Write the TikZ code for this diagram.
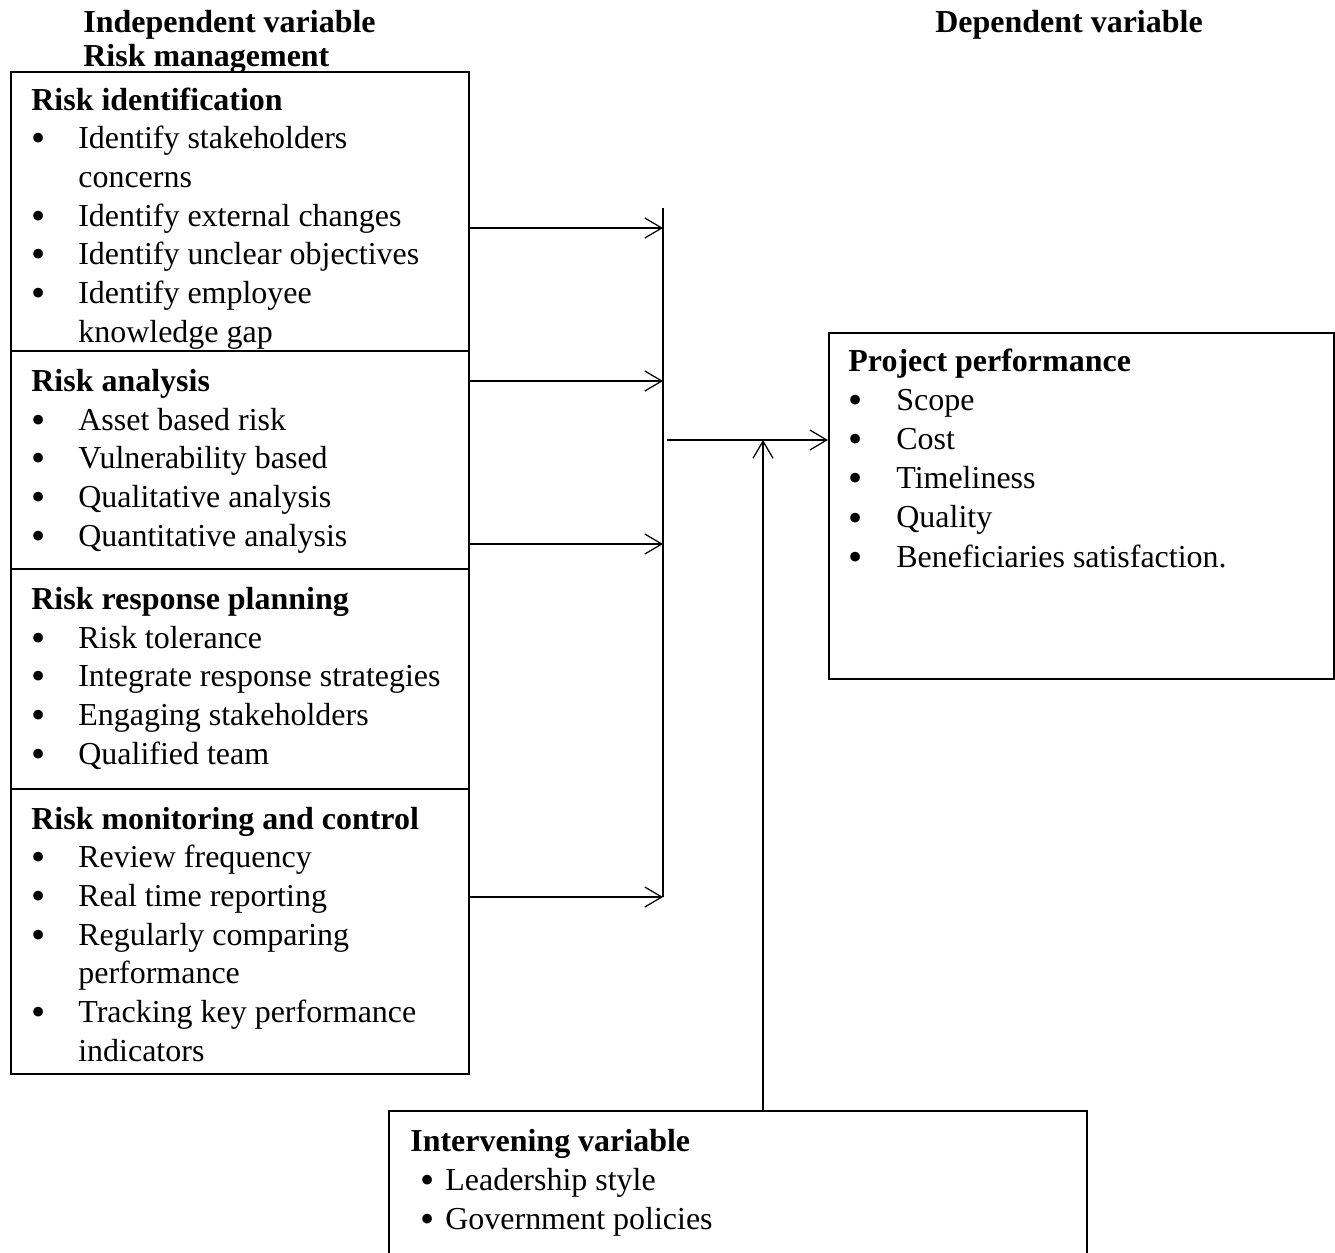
\documentclass[tikz,border=0pt]{standalone}
\usepackage{fontspec}
\setmainfont{Liberation Serif}
\usetikzlibrary{arrows.meta}
\usetikzlibrary{positioning}
\newcommand{\bul}{\raisebox{-0.1em}{\fontsize{23}{22}\selectfont\textbullet}}
\newcommand{\bitem}[2][0.94cm]{\makebox[#1][l]{\bul}#2}
\newcommand{\cont}[2][0.94cm]{\makebox[#1]{}#2}
\tikzset{%
  arr/.style = {-{Straight Barb[length=3.4mm,width=4mm]},line width=0.7pt},
  box/.style = {rectangle,draw,line width=1pt,anchor=north west,
        inner sep=0pt},
  txt/.style = {anchor=base west,align=left,inner sep=0pt,
        font=\fontsize{18.2}{22}\selectfont},
  hd/.style = {anchor=base west,inner sep=0pt,
        font=\fontsize{18.2}{22}\selectfont\bfseries}
}

\begin{document}
\begin{tikzpicture}[x=0.02cm,y=-0.02cm]
   \useasboundingbox (0,0) rectangle (1335,1252);

   \node[hd] (indep) at (83,32) {Independent variable};
   \node[hd] (mgmt) at (83,66) {Risk management};
   \node[hd] (dep) at (935,32) {Dependent variable};

   \node[box,minimum width=9.16cm,minimum height=5.58cm] (riskid) at (10,71) {};
   \node[box,minimum width=9.16cm,minimum height=4.36cm] (riskan) at (10,350) {};
   \node[box,minimum width=9.16cm,minimum height=4.4cm] (riskresp) at (10,568) {};
   \node[box,minimum width=9.16cm,minimum height=5.7cm] (riskmon) at (10,788) {};
   \node[box,minimum width=10.1cm,minimum height=6.92cm] (perf) at (828,332) {};
   \node[box,minimum width=13.96cm,minimum height=3.1cm] (interv) at (388,1110) {};

   \node[txt] (riskid-txt) at (31,342) {\textbf{Risk identification}\\
      \bitem{Identify stakeholders}\\ \cont{concerns}\\
      \bitem{Identify external changes}\\
      \bitem{Identify unclear objectives}\\
      \bitem{Identify employee}\\ \cont{knowledge gap}};
   \node[txt] (riskan-txt) at (31,546) {\textbf{Risk analysis}\\
      \bitem{Asset based risk}\\
      \bitem{Vulnerability based}\\
      \bitem{Qualitative analysis}\\
      \bitem{Quantitative analysis}};
   \node[txt] (riskresp-txt) at (31,764) {\textbf{Risk response planning}\\
      \bitem{Risk tolerance}\\
      \bitem{Integrate response strategies}\\
      \bitem{Engaging stakeholders}\\
      \bitem{Qualified team}};
   \node[txt] (riskmon-txt) at (31,1061) {\textbf{Risk monitoring and control}\\
      \bitem{Review frequency}\\
      \bitem{Real time reporting}\\
      \bitem{Regularly comparing}\\ \cont{performance}\\
      \bitem{Tracking key performance}\\ \cont{indicators}};
   \node[txt,font=\fontsize{18.2}{22.3}\selectfont] (perf-txt) at (848,567)
      {\textbf{Project performance}\\
      \bitem[0.96cm]{Scope}\\
      \bitem[0.96cm]{Cost}\\
      \bitem[0.96cm]{Timeliness}\\
      \bitem[0.96cm]{Quality}\\
      \bitem[0.96cm]{Beneficiaries satisfaction.}};
   \node[txt] (interv-txt) at (410,1229) {\textbf{Intervening variable}\\
      \makebox[0.7cm]{\bul}Leadership style\\
      \makebox[0.7cm]{\bul}Government policies};

   \coordinate (bustop) at (663,208);
   \coordinate (busbot) at (663,897);
   \coordinate (join) at (667,440);
   \coordinate (meet) at (763,440);

   \draw[line width=0.7pt] (bustop) -- (busbot);
   \draw[arr] (riskid.east |- 0,228) -- (bustop |- 0,228);
   \draw[arr] (riskan.east |- 0,381) -- (bustop |- 0,381);
   \draw[arr] (riskan.east |- 0,544) -- (bustop |- 0,544);
   \draw[arr] (riskmon.east |- busbot) -- (busbot);
   \draw[arr] (join) -- (perf.west |- join);
   \draw[arr] (interv.north -| meet) -- (meet);
\end{tikzpicture}
\end{document}
